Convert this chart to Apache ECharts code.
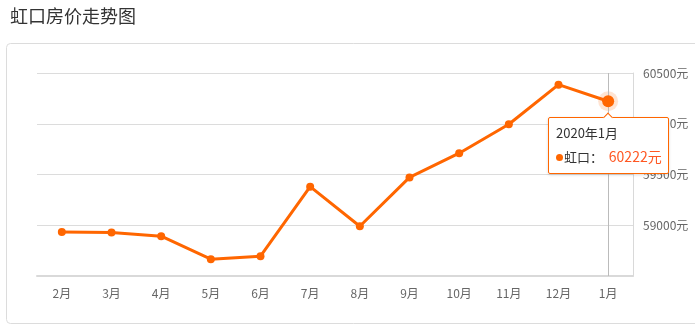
<!DOCTYPE html>
<html>
<head>
<meta charset="utf-8">
<script src="https://cdn.jsdelivr.net/npm/echarts@6/dist/echarts.min.js"></script>
<style>
html,body{margin:0;padding:0;background:#fff;}
#c{width:695px;height:329px;}
</style>
</head>
<body>
<div id="c"></div>
<script>
const categories = ['2月','3月','4月','5月','6月','7月','8月','9月','10月','11月','12月','1月'];
const fullDates = ['2019年2月','2019年3月','2019年4月','2019年5月','2019年6月','2019年7月','2019年8月','2019年9月','2019年10月','2019年11月','2019年12月','2020年1月'];
const prices = [58934, 58928, 58892, 58666, 58695, 59380, 58990, 59471, 59710, 59995, 60385, 60222];
const seriesName = '虹口';
const yTicks = [58500, 59000, 59500, 60000, 60500];
const titleText = '虹口房价走势图';
const activeIndex = 11;

const chart = echarts.init(document.getElementById('c'), null, {renderer: 'canvas'});
const font = '"Microsoft YaHei","Noto Sans CJK SC","Noto Sans",sans-serif';

const data = prices.map((v, i) => i === activeIndex ? {value: v, symbolSize: 12} : v);
const haloData = prices.map((v, i) => i === activeIndex ? v : null);

chart.setOption({
  animation: false,
  textStyle: {fontFamily: font},
  title: {
    text: titleText, left: 5, top: 2,
    textStyle: {fontSize: 18, fontWeight: 'normal', color: '#333', fontFamily: font}
  },
  graphic: [{
    type: 'rect', silent: true, z: -10,
    shape: {x: 6.5, y: 43.5, width: 740, height: 280, r: 4},
    style: {fill: 'none', stroke: '#dcdcdc', lineWidth: 1}
  }],
  grid: {left: 37, right: 62, top: 73, bottom: 53, containLabel: false},
  tooltip: {
    trigger: 'item',
    position: 'bottom',
    transitionDuration: 0,
    alwaysShowContent: true,
    backgroundColor: '#fff',
    borderColor: '#ff6600',
    borderWidth: 1,
    borderRadius: 2,
    padding: [4, 6, 4, 7],
    shadowBlur: 3,
    shadowColor: 'rgba(0,0,0,0.15)',
    shadowOffsetX: 0,
    shadowOffsetY: 1,
    textStyle: {color: '#333', fontSize: 13, fontFamily: font},
    formatter: function (p) {
      return '<div style="line-height:22px;font-size:13px;color:#333">' + fullDates[p.dataIndex] + '</div>' +
        '<div style="line-height:24px;font-size:13px;color:#333">' +
        '<span style="display:inline-block;width:7px;height:7px;border-radius:50%;background:#ff6600;margin-right:1px;vertical-align:1px"></span>' +
        p.seriesName + '：&nbsp;&nbsp;<span style="color:#ff5722;font-size:14px">' + p.value + '元</span></div>';
    }
  },
  xAxis: {
    type: 'category',
    data: categories,
    boundaryGap: true,
    axisLine: {lineStyle: {color: '#d9d9d9', width: 2}},
    axisTick: {alignWithLabel: true, length: 4, lineStyle: {color: '#d9d9d9'}},
    axisLabel: {color: '#666', fontSize: 12, margin: 11},
    splitLine: {show: false},
    axisPointer: {
      show: true, value: activeIndex, status: 'show', triggerTooltip: false,
      type: 'line', label: {show: false}, z: 2,
      lineStyle: {color: '#bbb', width: 1, type: 'solid'}
    }
  },
  yAxis: {
    type: 'value',
    position: 'right',
    min: yTicks[0], max: yTicks[yTicks.length - 1], interval: 500,
    axisLine: {show: true, lineStyle: {color: '#d9d9d9', width: 1}},
    axisTick: {show: false},
    axisLabel: {
      color: '#666', fontSize: 12, margin: 10,
      formatter: function (v) { return v === yTicks[0] ? '' : v + '元'; }
    },
    splitLine: {lineStyle: {color: '#dcdcdc', width: 1}}
  },
  series: [{
    name: seriesName + '-halo',
    type: 'scatter',
    data: haloData,
    symbol: 'circle',
    symbolSize: 20,
    z: 1,
    silent: true,
    tooltip: {show: false},
    itemStyle: {color: 'rgba(255,102,0,0.22)'},
    emphasis: {disabled: true}
  }, {
    name: seriesName,
    type: 'line',
    data: data,
    z: 3,
    symbol: 'circle',
    symbolSize: 8,
    showAllSymbol: true,
    lineStyle: {color: '#ff6600', width: 3},
    itemStyle: {color: '#ff6600'},
    emphasis: {disabled: true}
  }]
});

chart.dispatchAction({type: 'showTip', seriesIndex: 1, dataIndex: activeIndex});
</script>
</body>
</html>
